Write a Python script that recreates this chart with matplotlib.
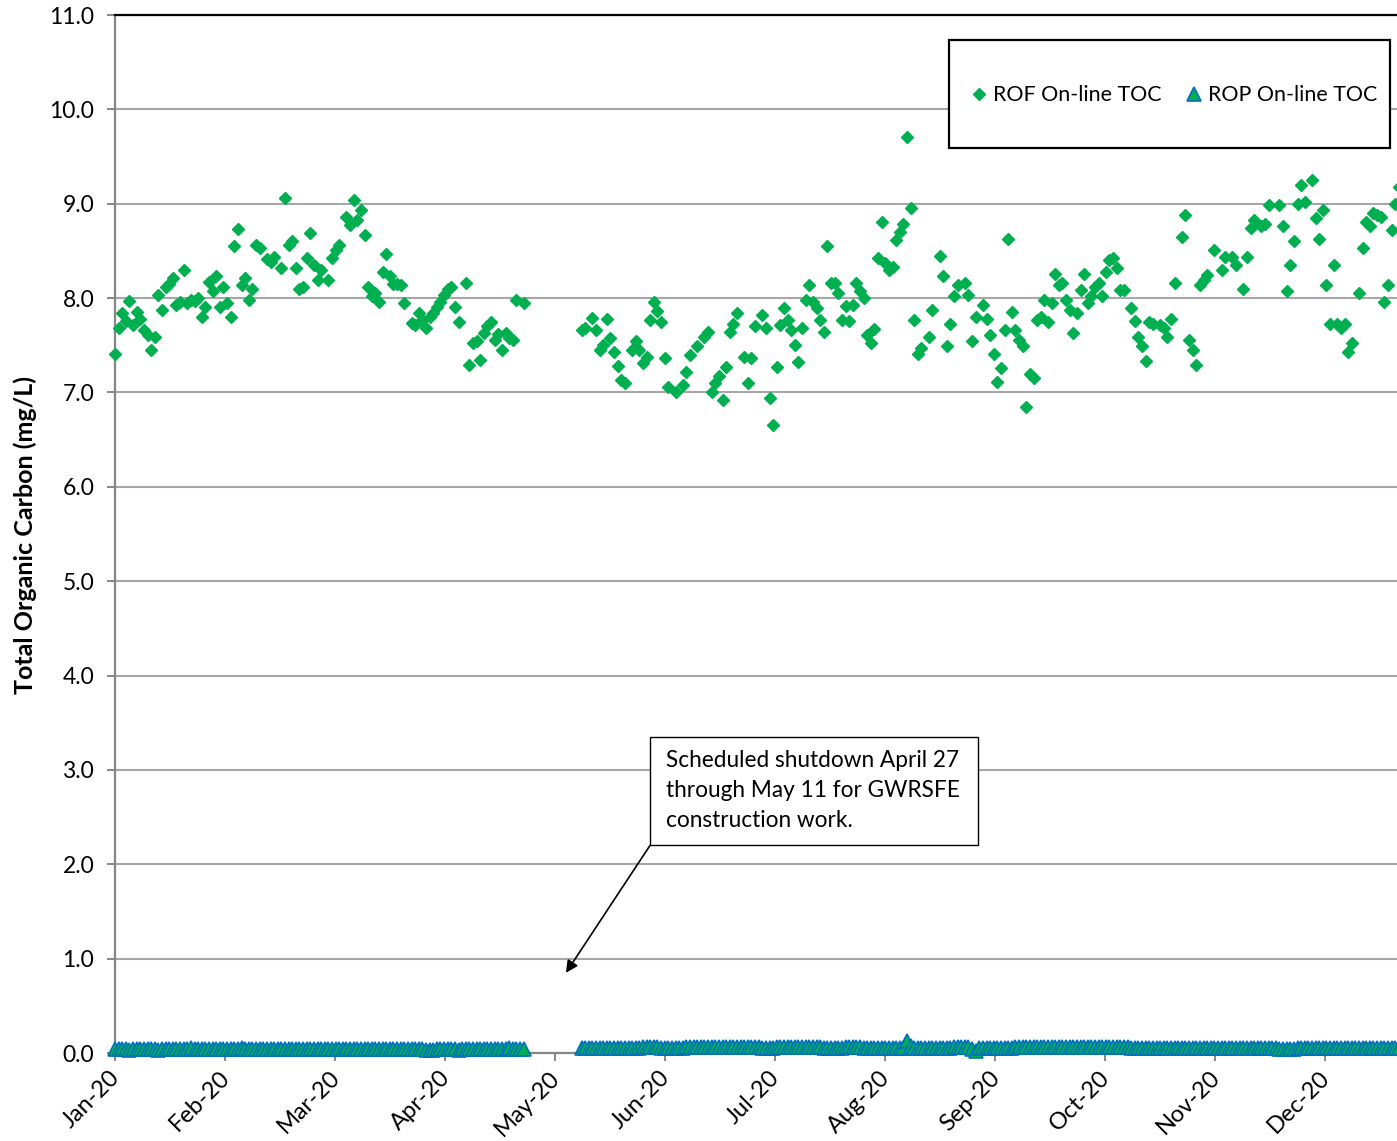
import matplotlib
matplotlib.use("Agg")
import matplotlib.pyplot as plt
import matplotlib.transforms as mtransforms
from matplotlib.patches import Rectangle
from matplotlib.lines import Line2D
import numpy as np

plt.rcParams['font.family'] = ['Lato', 'DejaVu Sans']

# ---------------- data ----------------
month_labels = ["Jan-20", "Feb-20", "Mar-20", "Apr-20", "May-20", "Jun-20",
                "Jul-20", "Aug-20", "Sep-20", "Oct-20", "Nov-20", "Dec-20"]
month_step_days = 30.42          # axis tick interval (days)
y_ticks = list(range(0, 12))

# ROF on-line TOC (day of year, mg/L)
rof_points = [
    (0, 7.41), (1, 7.68), (2, 7.84), (3, 7.76), (4, 7.97), (5, 7.72), (6, 7.85), (7, 7.78), (8, 7.66), (9, 7.61),
    (10, 7.45), (11, 7.59), (12, 8.03), (13, 7.87), (14, 8.12), (15, 8.15), (16, 8.21), (17, 7.93), (18, 7.96), (19, 8.30),
    (20, 7.95), (21, 7.98), (22, 7.97), (23, 8.00), (24, 7.80), (25, 7.91), (26, 8.17), (27, 8.07), (28, 8.23), (29, 7.91),
    (30, 8.12), (31, 7.95), (32, 7.80), (33, 8.55), (34, 8.73), (35, 8.14), (36, 8.21), (37, 7.98), (38, 8.10), (39, 8.56),
    (40, 8.53), (42, 8.41), (43, 8.38), (44, 8.44), (46, 8.32), (47, 9.06), (48, 8.56), (49, 8.60), (50, 8.32), (51, 8.10),
    (52, 8.12), (53, 8.42), (54, 8.69), (55, 8.35), (56, 8.19), (57, 8.30), (59, 8.19), (60, 8.42), (61, 8.51), (62, 8.56),
    (64, 8.86), (65, 8.77), (66, 9.04), (67, 8.83), (68, 8.93), (69, 8.67), (70, 8.12), (71, 8.02), (72, 8.05), (73, 7.96),
    (74, 8.28), (75, 8.47), (76, 8.23), (77, 8.15), (78, 8.15), (79, 8.14), (80, 7.95), (82, 7.74), (83, 7.72), (84, 7.84),
    (85, 7.77), (86, 7.68), (87, 7.80), (88, 7.84), (89, 7.91), (90, 7.96), (91, 8.03), (92, 8.10), (93, 8.12), (94, 7.91),
    (95, 7.75), (97, 8.16), (98, 7.29), (99, 7.52), (100, 7.55), (101, 7.34), (102, 7.63), (103, 7.70), (104, 7.75), (105, 7.56),
    (106, 7.62), (107, 7.45), (108, 7.63), (109, 7.58), (110, 7.56), (111, 7.98), (113, 7.95),
    (129, 7.66), (130, 7.68), (132, 7.79), (133, 7.66), (134, 7.45), (135, 7.50), (136, 7.78), (137, 7.58), (138, 7.43), (139, 7.28),
    (140, 7.13), (141, 7.10), (143, 7.45), (144, 7.54), (145, 7.45), (146, 7.31), (147, 7.38), (148, 7.77), (149, 7.96), (150, 7.86),
    (151, 7.75), (152, 7.37), (153, 7.06), (155, 7.01), (157, 7.08), (158, 7.22), (159, 7.40), (161, 7.49), (163, 7.59), (164, 7.64),
    (165, 7.01), (166, 7.10), (167, 7.17), (168, 6.92), (169, 7.27), (170, 7.64), (171, 7.73), (172, 7.84), (174, 7.38), (175, 7.10),
    (176, 7.36), (177, 7.70), (179, 7.82), (180, 7.68), (181, 6.94), (182, 6.66), (183, 7.27), (184, 7.72), (185, 7.89), (186, 7.77),
    (187, 7.66), (188, 7.50), (189, 7.32), (190, 7.68), (191, 7.98), (192, 8.14), (193, 7.96), (194, 7.89), (195, 7.77), (196, 7.64),
    (197, 8.55), (198, 8.16), (199, 8.16), (200, 8.05), (201, 7.77), (202, 7.92), (203, 7.76), (204, 7.93), (205, 8.16), (206, 8.07),
    (207, 8.00), (208, 7.61), (209, 7.52), (210, 7.67), (211, 8.42), (212, 8.81), (213, 8.37), (214, 8.30), (215, 8.33), (216, 8.62),
    (217, 8.70), (218, 8.79), (219, 9.71), (220, 8.96), (221, 7.77), (222, 7.41), (223, 7.47), (225, 7.59), (226, 7.87), (228, 8.45),
    (229, 8.23), (230, 7.49), (231, 7.73), (232, 8.02), (233, 8.14), (235, 8.16), (236, 8.03), (237, 7.54), (238, 7.80), (240, 7.93),
    (241, 7.78), (242, 7.61), (243, 7.41), (244, 7.11), (245, 7.26), (246, 7.66), (247, 8.63), (248, 7.85), (249, 7.66), (250, 7.56),
    (251, 7.49), (252, 6.85), (253, 7.20), (254, 7.15), (255, 7.77), (256, 7.80), (257, 7.98), (258, 7.75), (259, 7.95), (260, 8.26),
    (261, 8.14), (262, 8.16), (263, 7.98), (264, 7.87), (265, 7.63), (266, 7.84), (267, 8.09), (268, 8.26), (269, 7.95), (270, 8.02),
    (271, 8.12), (272, 8.16), (273, 8.02), (274, 8.28), (275, 8.40), (276, 8.42), (277, 8.32), (278, 8.09), (279, 8.09), (281, 7.90),
    (282, 7.76), (283, 7.59), (284, 7.49), (285, 7.33), (286, 7.75), (287, 7.73), (289, 7.72), (290, 7.68), (291, 7.59), (292, 7.78),
    (293, 8.16), (295, 8.65), (296, 8.88), (297, 7.56), (298, 7.45), (299, 7.29), (300, 8.14), (301, 8.19), (302, 8.24), (304, 8.51),
    (306, 8.30), (307, 8.44), (309, 8.44), (310, 8.35), (312, 8.10), (313, 8.44), (314, 8.74), (315, 8.83), (317, 8.76), (318, 8.79),
    (319, 8.99), (322, 8.99), (323, 8.76), (324, 8.07), (325, 8.35), (326, 8.60), (327, 9.00), (328, 9.20), (329, 9.02), (331, 9.25),
    (332, 8.85), (333, 8.63), (334, 8.93), (335, 8.14), (336, 7.73), (337, 8.35), (338, 7.73), (339, 7.68), (340, 7.73), (341, 7.43),
    (342, 7.52), (344, 8.05), (345, 8.53), (346, 8.81), (347, 8.76), (348, 8.90), (349, 8.88), (350, 8.86), (351, 7.96), (352, 8.14),
    (353, 8.72), (354, 9.00), (355, 9.18),
]
rof_days = [p[0] for p in rof_points]
rof_vals = [p[1] for p in rof_points]

# ROP on-line TOC: two runs of daily values (before / after the shutdown)
rop_start_1 = 0
rop_vals_1 = [
    0.04, 0.04, 0.04, 0.04, 0.03, 0.04, 0.04, 0.04, 0.04, 0.04,
    0.04, 0.04, 0.03, 0.04, 0.04, 0.04, 0.04, 0.04, 0.04, 0.04,
    0.04, 0.05, 0.04, 0.04, 0.04, 0.04, 0.04, 0.04, 0.04, 0.04,
    0.04, 0.04, 0.04, 0.04, 0.04, 0.05, 0.04, 0.04, 0.04, 0.04,
    0.04, 0.04, 0.04, 0.04, 0.04, 0.04, 0.04, 0.04, 0.04, 0.04,
    0.04, 0.04, 0.04, 0.04, 0.04, 0.04, 0.04, 0.04, 0.04, 0.04,
    0.04, 0.04, 0.04, 0.04, 0.04, 0.04, 0.04, 0.04, 0.04, 0.04,
    0.04, 0.04, 0.04, 0.04, 0.04, 0.04, 0.04, 0.04, 0.04, 0.04,
    0.04, 0.04, 0.04, 0.04, 0.04, 0.04, 0.03, 0.03, 0.03, 0.04,
    0.04, 0.04, 0.04, 0.04, 0.04, 0.03, 0.04, 0.04, 0.04, 0.04,
    0.04, 0.04, 0.04, 0.04, 0.04, 0.04, 0.04, 0.04, 0.04, 0.05,
    0.04, 0.04, 0.04, 0.04,
]
rop_start_2 = 129
rop_vals_2 = [
    0.05, 0.05, 0.05, 0.05, 0.05, 0.05, 0.05, 0.05, 0.05, 0.05,
    0.05, 0.05, 0.05, 0.05, 0.05, 0.05, 0.05, 0.06, 0.06, 0.06,
    0.06, 0.06, 0.05, 0.05, 0.05, 0.05, 0.05, 0.05, 0.05, 0.06,
    0.06, 0.06, 0.06, 0.06, 0.06, 0.06, 0.06, 0.06, 0.06, 0.06,
    0.06, 0.06, 0.06, 0.06, 0.06, 0.06, 0.06, 0.06, 0.06, 0.06,
    0.05, 0.05, 0.05, 0.05, 0.06, 0.06, 0.06, 0.06, 0.06, 0.06,
    0.06, 0.06, 0.06, 0.06, 0.06, 0.06, 0.06, 0.05, 0.05, 0.05,
    0.05, 0.05, 0.05, 0.06, 0.06, 0.06, 0.06, 0.06, 0.05, 0.05,
    0.05, 0.05, 0.05, 0.05, 0.05, 0.05, 0.05, 0.05, 0.05, 0.05,
    0.13, 0.07, 0.05, 0.05, 0.05, 0.05, 0.05, 0.05, 0.05, 0.05,
    0.05, 0.05, 0.05, 0.06, 0.06, 0.06, 0.06, 0.06, 0.04, 0.02,
    0.05, 0.05, 0.05, 0.05, 0.05, 0.05, 0.05, 0.05, 0.05, 0.05,
    0.06, 0.06, 0.06, 0.06, 0.06, 0.06, 0.06, 0.06, 0.06, 0.06,
    0.06, 0.06, 0.06, 0.06, 0.06, 0.06, 0.06, 0.06, 0.06, 0.06,
    0.06, 0.06, 0.06, 0.06, 0.06, 0.06, 0.06, 0.06, 0.06, 0.06,
    0.06, 0.06, 0.05, 0.05, 0.05, 0.05, 0.05, 0.05, 0.05, 0.05,
    0.05, 0.05, 0.05, 0.05, 0.05, 0.05, 0.05, 0.05, 0.05, 0.05,
    0.05, 0.05, 0.05, 0.05, 0.05, 0.05, 0.05, 0.05, 0.05, 0.05,
    0.05, 0.05, 0.05, 0.05, 0.05, 0.05, 0.05, 0.05, 0.05, 0.05,
    0.05, 0.05, 0.05, 0.04, 0.04, 0.04, 0.04, 0.04, 0.05, 0.05,
    0.05, 0.05, 0.05, 0.05, 0.05, 0.05, 0.05, 0.05, 0.05, 0.05,
    0.05, 0.05, 0.05, 0.05, 0.05, 0.05, 0.05, 0.05, 0.05, 0.05,
    0.05, 0.05, 0.05, 0.05, 0.05, 0.05, 0.05,
]
rop_days = list(range(rop_start_1, rop_start_1 + len(rop_vals_1))) + \
           list(range(rop_start_2, rop_start_2 + len(rop_vals_2)))
rop_vals = rop_vals_1 + rop_vals_2

annotation_text = "Scheduled shutdown April 27\nthrough May 11 for GWRSFE\nconstruction work."

# ---------------- style ----------------
ROF_GREEN = '#00B050'
ROP_BLUE = '#0070C0'
AXIS_GRAY = '#868686'
GRID_GRAY = '#A6A6A6'

W, H = 1397, 1141
fig = plt.figure(figsize=(W / 100, H / 100), dpi=100)
ax = fig.add_axes([115 / W, 88 / H, (W - 115) / W, (1053 - 15) / H])

ax.plot(rop_days, rop_vals, linestyle='none', marker='^', ms=10,
        markerfacecolor=ROF_GREEN, markeredgecolor=ROP_BLUE, mew=1.2,
        clip_on=False, zorder=3)
ax.plot(rof_days, rof_vals, linestyle='none', marker='D', ms=6,
        color=ROF_GREEN, mec=ROF_GREEN, clip_on=False, zorder=3)

ax.set_xlim(0, 354.5)
ax.set_ylim(0, 11)
ax.set_yticks(y_ticks)
ax.set_yticklabels([f"{v:.1f}" for v in y_ticks])
ax.set_xticks([k * month_step_days for k in range(len(month_labels))])
ax.set_xticklabels(month_labels, rotation=45, ha='right', rotation_mode='anchor')

ax.yaxis.grid(True, color=GRID_GRAY, lw=1.5)
ax.set_axisbelow(True)
for s in ['left', 'bottom']:
    ax.spines[s].set_color(AXIS_GRAY)
    ax.spines[s].set_linewidth(1.6)
ax.spines['top'].set_color('black')
ax.spines['top'].set_linewidth(1.6)
ax.spines['right'].set_visible(False)
ax.tick_params(axis='both', direction='out', length=6, width=1.4,
               color=AXIS_GRAY, labelcolor='black')
ax.tick_params(axis='y', pad=9, labelsize=16.5)
ax.tick_params(axis='x', pad=4, labelsize=17)
shift = mtransforms.ScaledTranslation(-6 / 100, 0, fig.dpi_scale_trans)
for lbl in ax.get_xticklabels():
    lbl.set_transform(lbl.get_transform() + shift)

fig.text(25 / W, 1 - 535 / H, "Total Organic Carbon (mg/L)", rotation=90,
         ha='center', va='center', fontsize=18, fontweight='bold')

# legend with a separate frame
fig.patches.append(Rectangle((949 / W, 1 - 148 / H), (1390 - 949) / W, (148 - 40) / H,
                             transform=fig.transFigure, fill=True, facecolor='white',
                             edgecolor='black', lw=1.6, zorder=5))
handles = [
    Line2D([], [], linestyle='none', marker='D', ms=6, color=ROF_GREEN),
    Line2D([], [], linestyle='none', marker='^', ms=10, markerfacecolor=ROF_GREEN,
           markeredgecolor=ROP_BLUE, mew=1.2),
]
leg = fig.legend(handles, ["ROF On-line TOC", "ROP On-line TOC"], ncol=2,
                 loc='center', bbox_to_anchor=(1174 / W, 1 - 95 / H), frameon=False,
                 fontsize=15.4, handlelength=0.8, handletextpad=0.25, columnspacing=1.1)
leg.set_zorder(6)

# annotation box and arrow
ax.add_patch(Rectangle((147.95, 2.20), 90.75, 1.15, facecolor='white',
                       edgecolor='black', lw=1.0, zorder=4, clip_on=False))
ax.text(152.4, 3.21, annotation_text, ha='left', va='top', fontsize=16.3,
        linespacing=1.52, zorder=5)
ax.annotate('', xy=(124.7, 0.85), xytext=(147.95, 2.20),
            arrowprops=dict(arrowstyle='-|>', color='black', lw=1.2,
                            mutation_scale=18, shrinkA=0, shrinkB=0), zorder=5)

fig.savefig('out.png', dpi=100)
